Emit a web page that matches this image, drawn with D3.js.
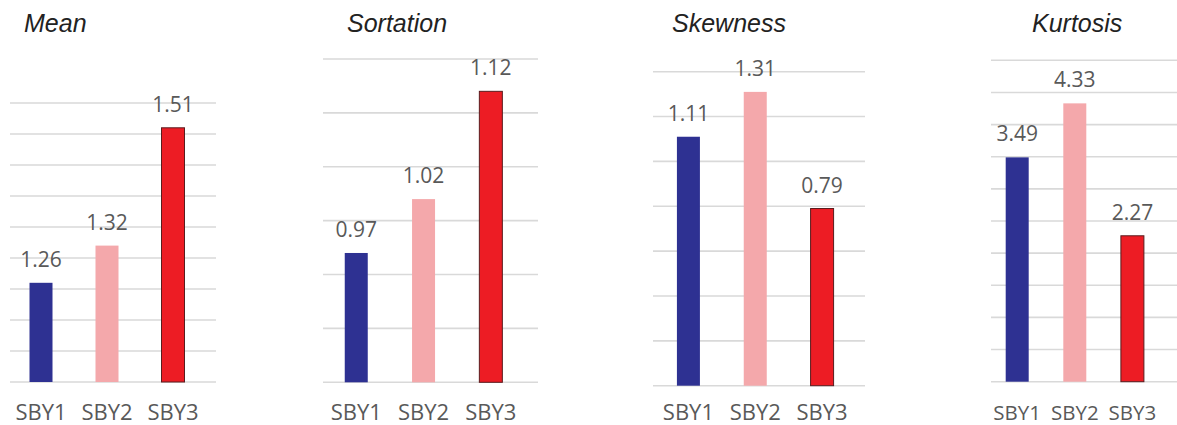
<!DOCTYPE html>
<html>
<head>
<meta charset="utf-8">
<script src="https://cdn.jsdelivr.net/npm/d3@7"></script>
<style>
  body { margin: 0; background: #fff; }
  svg { display: block; }
</style>
</head>
<body>
<div id="chart"></div>
<script>
const panelTitles = ['Mean', 'Sortation', 'Skewness', 'Kurtosis']
const categories = ['SBY1', 'SBY2', 'SBY3']
const meanValues = [1.26, 1.32, 1.51]
const sortationValues = [0.97, 1.02, 1.12]
const skewnessValues = [1.11, 1.31, 0.79]
const kurtosisValues = [3.49, 4.33, 2.27]
const axisDomains = [[1.1, 1.55], [0.85, 1.15], [0, 1.4], [0, 5]]
const tickCounts = [10, 6, 7, 10]

const seriesValues = [meanValues, sortationValues, skewnessValues, kurtosisValues]

// where each little chart sits on the page (pixels)
const layout = [
  { titleX: 24, grid: [10, 216], bars: [8, 206], y: [382, 103], labelSize: 22 },
  { titleX: 347, grid: [323, 538], bars: [322.6, 524.5], y: [382.3, 59], labelSize: 22 },
  { titleX: 672, grid: [653, 865], bars: [655, 855.5], y: [385.7, 71.7], labelSize: 22 },
  { titleX: 1032, grid: [991, 1180], bars: [988.4, 1161.2], y: [381.7, 60.3], labelSize: 20.5 }
]

const barWidth = 23
const fills = { SBY1: '#2e3192', SBY2: '#f4a8ab', SBY3: '#ed1c24' }
const strokes = { SBY1: 'none', SBY2: 'none', SBY3: '#5a1c1e' }
const textColor = '#595959'

const svg = d3.select('#chart')
  .append('svg')
  .attr('width', 1177)
  .attr('height', 425)

const drawPanel = (title, values, domain, tickCount, pos) => {
  const g = svg.append('g')

  const x = d3.scaleBand()
    .domain(categories)
    .range(pos.bars)
  const y = d3.scaleLinear()
    .domain(domain)
    .range(pos.y)

  // horizontal gridlines
  g.selectAll('.grid')
    .data(y.ticks(tickCount))
    .enter()
    .append('line')
    .attr('x1', pos.grid[0])
    .attr('x2', pos.grid[1])
    .attr('y1', d => y(d))
    .attr('y2', d => y(d))
    .attr('stroke', '#d9d9d9')
    .attr('stroke-width', 1.6)

  const rows = categories.map((c, i) => ({ key: c, value: values[i] }))

  g.selectAll('.bar')
    .data(rows)
    .enter()
    .append('rect')
    .attr('x', d => x(d.key) + x.bandwidth() / 2 - barWidth / 2)
    .attr('width', barWidth)
    .attr('y', d => y(d.value))
    .attr('height', d => y(domain[0]) - y(d.value))
    .attr('fill', d => fills[d.key])
    .attr('stroke', d => strokes[d.key])
    .attr('stroke-width', 1)

  g.selectAll('.value')
    .data(rows)
    .enter()
    .append('text')
    .attr('x', d => x(d.key) + x.bandwidth() / 2)
    .attr('y', d => y(d.value) - 16)
    .attr('text-anchor', 'middle')
    .attr('font-family', '"Open Sans", sans-serif')
    .attr('font-size', 21)
    .attr('fill', textColor)
    .text(d => d.value.toFixed(2))

  g.selectAll('.cat')
    .data(rows)
    .enter()
    .append('text')
    .attr('x', d => x(d.key) + x.bandwidth() / 2)
    .attr('y', 420)
    .attr('text-anchor', 'middle')
    .attr('font-family', '"Open Sans", sans-serif')
    .attr('font-size', pos.labelSize)
    .attr('fill', textColor)
    .text(d => d.key)

  g.append('text')
    .attr('x', pos.titleX)
    .attr('y', 32)
    .attr('font-family', '"Liberation Sans", Arial, sans-serif')
    .attr('font-style', 'italic')
    .attr('font-size', 25)
    .attr('fill', '#222')
    .text(title)
}

panelTitles.forEach((t, i) => drawPanel(t, seriesValues[i], axisDomains[i], tickCounts[i], layout[i]))
</script>
</body>
</html>
